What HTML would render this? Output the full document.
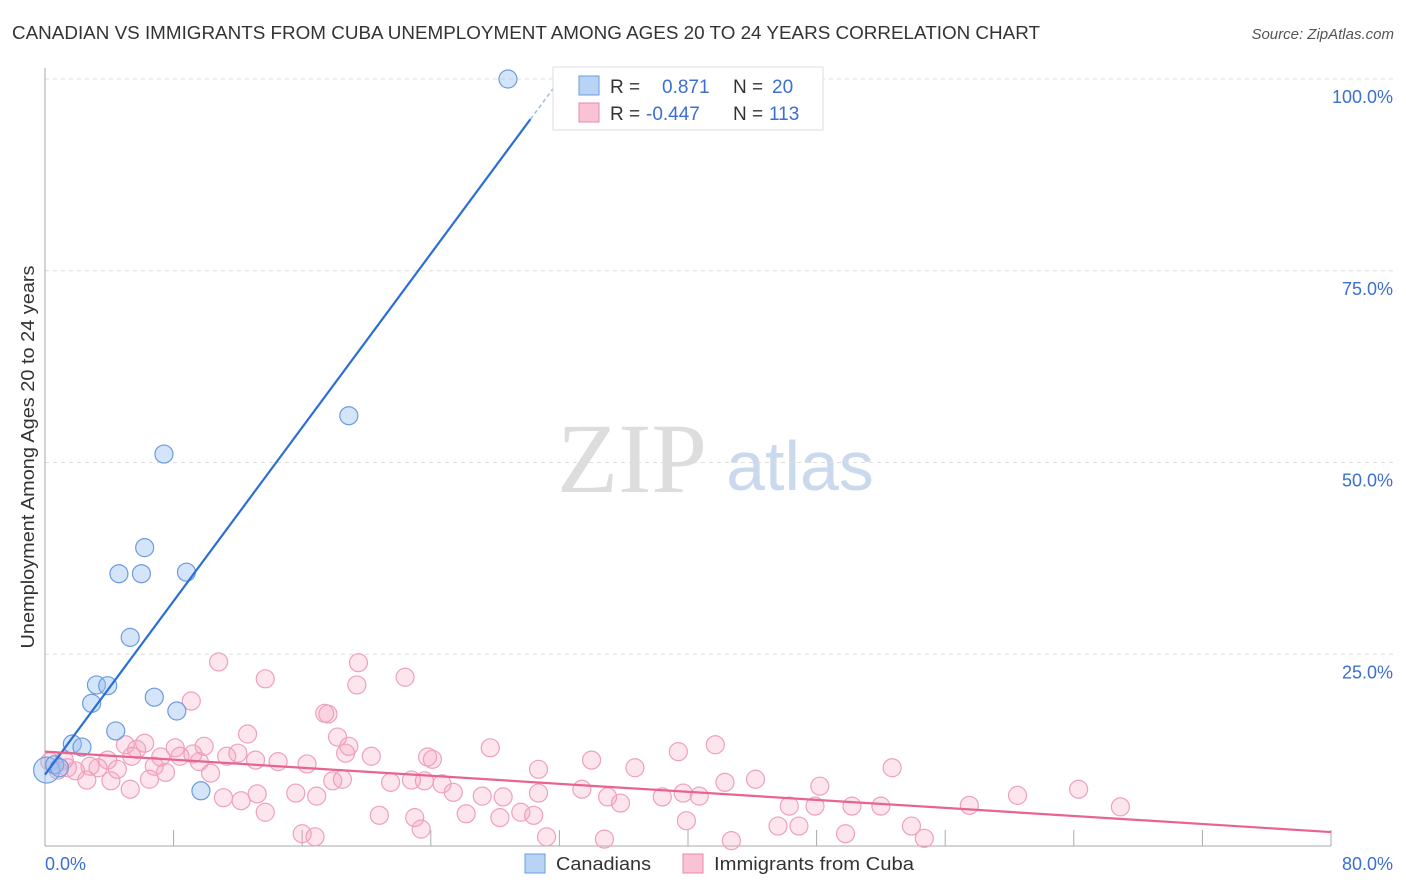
<!DOCTYPE html>
<html><head><meta charset="utf-8"><style>
body{margin:0;background:#fff;font-family:"Liberation Sans",sans-serif}
svg{display:block}
</style></head><body>
<svg id="c" width="1406" height="892">
<text x="12" y="39" font-size="18" fill="#333" textLength="1028" lengthAdjust="spacingAndGlyphs">CANADIAN VS IMMIGRANTS FROM CUBA UNEMPLOYMENT AMONG AGES 20 TO 24 YEARS CORRELATION CHART</text>
<text x="1394" y="39" font-size="15" fill="#555" font-style="italic" text-anchor="end">Source: ZipAtlas.com</text>
<text x="632" y="492" font-size="100" fill="#ddd" font-family="Liberation Serif,serif" text-anchor="middle">ZIP</text>
<text x="800" y="490" font-size="70" fill="#c9d9ee" text-anchor="middle">atlas</text>
<text transform="translate(34,457) rotate(-90)" font-size="18" fill="#333" text-anchor="middle" textLength="383" lengthAdjust="spacingAndGlyphs">Unemployment Among Ages 20 to 24 years</text>
<g id="grid"></g><g id="pts"></g><g id="lines"></g>
<g>
<rect x="553" y="67" width="270" height="63" fill="#fff" stroke="#ddd"/>
<rect x="579" y="76" width="20" height="19" fill="#b9d3f5" stroke="#6b9be0"/>
<rect x="579" y="103" width="20" height="19" fill="#f9c3d5" stroke="#e88aaa"/>
<text x="610" y="93" font-size="19" fill="#333">R =</text><text x="662" y="93" font-size="19" fill="#3b6fd1">0.871</text>
<text x="733" y="93" font-size="19" fill="#333">N =</text><text x="772" y="93" font-size="19" fill="#3b6fd1">20</text>
<text x="610" y="120" font-size="19" fill="#333">R =</text><text x="646" y="120" font-size="19" fill="#3b6fd1">-0.447</text>
<text x="733" y="120" font-size="19" fill="#333">N =</text><text x="769" y="120" font-size="19" fill="#3b6fd1">113</text>
</g>
<g>
<rect x="525" y="854" width="20" height="19" fill="#b9d3f5" stroke="#6b9be0"/>
<text x="556" y="870" font-size="18" fill="#333" textLength="95" lengthAdjust="spacingAndGlyphs">Canadians</text>
<rect x="683" y="854" width="20" height="19" fill="#f9c3d5" stroke="#e88aaa"/>
<text x="714" y="870" font-size="18" fill="#333" textLength="200" lengthAdjust="spacingAndGlyphs">Immigrants from Cuba</text>
</g>
</svg>
<script>
const blueX=[28.8,18.9,7.4,6.2,4.6,6.0,8.8,5.3,3.2,3.9,2.9,6.8,8.2,4.4,1.7,2.3,9.7,0.1,0.6,0.9];
const blueY=[100,56.1,51.1,38.9,35.5,35.5,35.7,27.2,21.0,20.9,18.6,19.4,17.6,15.0,13.3,12.9,7.2,9.9,10.6,10.2];
const pinkX=[10.8,13.7,9.1,12.6,5.0,5.7,8.1,9.9,8.4,9.2,6.2,7.2,6.8,7.5,5.4,3.9,4.5,3.3,2.8,1.9,1.4,1.2,2.6,4.1,5.3,6.5,10.3,9.6,11.3,12.0,13.1,14.5,16.3,13.2,11.1,12.2,13.7,15.6,16.0,16.8,16.9,17.6,17.4,18.2,18.9,18.7,19.5,19.4,22.4,20.3,17.9,18.5,21.5,22.8,23.8,24.1,23.6,24.7,25.4,20.8,23.0,23.4,26.2,27.7,27.2,28.5,28.3,29.6,30.4,30.7,30.7,31.2,34.0,33.4,35.0,35.8,34.8,36.7,38.4,39.4,39.7,40.7,39.9,41.7,42.3,44.2,42.7,45.6,46.9,46.3,47.9,48.2,50.2,49.8,52.0,52.7,53.9,54.7,57.5,60.5,64.3,66.9,0.3,0.8];
const pinkY=[24.0,21.8,18.9,14.6,13.2,12.6,12.8,13.0,11.7,12.0,13.4,11.6,10.4,9.6,11.7,11.2,10.0,10.2,10.4,9.8,10.2,11.2,8.6,8.5,7.4,8.7,9.5,11.0,11.7,12.1,11.2,11.0,10.7,6.8,6.3,5.9,4.4,6.9,1.6,1.2,6.5,17.2,17.3,14.2,13.0,12.1,23.9,21.0,22.0,11.7,8.5,8.7,8.3,8.6,11.6,11.3,8.5,8.1,7.0,4.0,3.7,2.2,4.2,12.8,6.5,6.4,3.7,4.4,4.0,6.9,10.0,1.2,11.2,7.4,6.4,5.6,0.9,10.2,6.4,12.3,6.9,6.5,3.3,13.2,8.3,8.7,0.7,2.6,2.6,5.2,5.2,7.8,5.2,1.6,5.2,10.2,2.6,1.0,5.3,6.6,7.4,5.1,11.0,9.9];
const yTicks=[25,50,75,100];
const xTicks=[0,8,16,24,32,40,48,56,64,72,80];
const blueFit=[9.3,2.83];   // intercept, slope
const pinkFit=[12.3,-0.131];
const NS="http://www.w3.org/2000/svg";
const sx=v=>45+v/80*1286, sy=v=>846-v/100*767;
function mk(tag,a,p){const e=document.createElementNS(NS,tag);for(const k in a)e.setAttribute(k,a[k]);p.appendChild(e);return e;}
const grid=document.getElementById('grid'),pts=document.getElementById('pts'),lines=document.getElementById('lines');
yTicks.forEach(t=>{
 const l=mk('line',{x1:45,x2:1394,y1:sy(t),y2:sy(t),stroke:'#ddd','stroke-dasharray':'4,4'},grid);
 
 
 const tx=mk('text',{x:1393,y:sy(t)+24,'font-size':18,fill:'#3b6fd1','text-anchor':'end'},grid);
 tx.textContent=t.toFixed(1)+'%';
 
 
});
mk('line',{x1:45,x2:45,y1:68,y2:846,stroke:'#aaa'},grid);
mk('line',{x1:45,x2:1331,y1:846,y2:846,stroke:'#aaa'},grid);
xTicks.forEach(t=>{
 const l=mk('line',{x1:sx(t),x2:sx(t),y1:830,y2:846,stroke:'#aaa'},grid);
 
 
});
[[0,'0.0%','start',45],[80,'80.0%','end',1393]].forEach(d=>{
 const tx=mk('text',{x:d[3],y:870,'font-size':18,fill:'#3b6fd1','text-anchor':d[2]},grid);
 tx.textContent=d[1];
 
 
});
pinkX.forEach((x,i)=>{
 const c=mk('circle',{cx:sx(x),cy:sy(pinkY[i]),r:9,fill:'rgba(244,160,190,0.28)',stroke:'#efa0bb','stroke-width':1.2},pts);
 
 
});
blueX.forEach((x,i)=>{
 const c=mk('circle',{cx:sx(x),cy:sy(blueY[i]),r:i==17?13:9,fill:'rgba(150,190,240,0.4)',stroke:'#6b9be0','stroke-width':1.2},pts);
 
 
});
const bx2=30.2;
const bl=mk('line',{x1:sx(0),y1:sy(blueFit[0]),x2:sx(bx2),y2:sy(blueFit[0]+blueFit[1]*bx2),stroke:'#2b6fd6','stroke-width':2.2},lines);


const bd=mk('line',{x1:sx(bx2),y1:sy(blueFit[0]+blueFit[1]*bx2),x2:sx(31.6),y2:sy(blueFit[0]+blueFit[1]*31.6),stroke:'#9dbbe8','stroke-width':1.5,'stroke-dasharray':'4,3'},lines);


const pl=mk('line',{x1:sx(0),y1:sy(pinkFit[0]),x2:sx(80),y2:sy(pinkFit[0]+pinkFit[1]*80),stroke:'#e8648f','stroke-width':2.2},lines);


</script>
</body></html>
